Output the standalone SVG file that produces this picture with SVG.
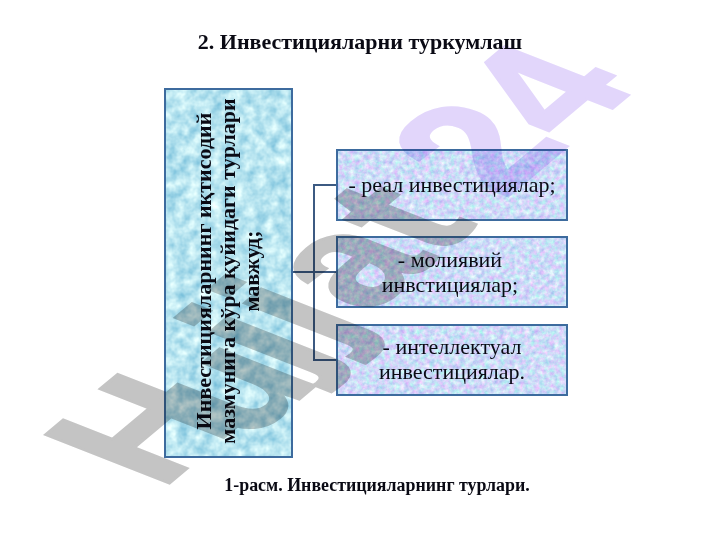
<svg xmlns="http://www.w3.org/2000/svg" width="720" height="540" viewBox="0 0 720 540">
<style>
.t{font-family:"Liberation Serif","Noto Sans",serif;fill:#0a0a14;text-anchor:middle}
.b{font-weight:bold}
.box{stroke:#3d6b9e;stroke-width:2}
.side{font-size:22px}
.lbl{font-size:22px}
.wm{font-family:"Liberation Sans",sans-serif;font-weight:bold;font-size:160px;mix-blend-mode:multiply;stroke-width:3}
.g1{fill:#c4c4c4;stroke:#c4c4c4}
.g2{fill:#e2d6fb;stroke:#e2d6fb}
.c{fill:none;stroke:#3c5a82;stroke-width:2}
</style>
<defs>
<filter id="drops" x="0" y="0" width="100%" height="100%" color-interpolation-filters="sRGB">
<feTurbulence type="fractalNoise" baseFrequency="0.09" numOctaves="3" seed="4"/>
<feColorMatrix type="matrix" values="0.6 0 0 0 0.42  0.35 0 0 0 0.72  0.2 0 0 0 0.84  0 0 0 0 1"/>
<feComposite in2="SourceGraphic" operator="in"/>
</filter>
<filter id="mottle" x="0" y="0" width="100%" height="100%" color-interpolation-filters="sRGB">
<feTurbulence type="fractalNoise" baseFrequency="0.2" numOctaves="3" seed="9"/>
<feColorMatrix type="matrix" values="0.45 0 0 0 0.58  0 0.4 0 0 0.66  0.1 0 0 0 0.92  0 0 0 0 1"/>
<feComposite in2="SourceGraphic" operator="in"/>
</filter>
</defs>
<rect width="720" height="540" fill="#fff"/>
<text id="title" class="t b" x="360" y="49" font-size="22">2. Инвестицияларни туркумлаш</text>
<g id="connectors">
<path class="c" d="M292 272H337M337 185H314V360H337"/>
</g>
<g id="main">
<rect x="165" y="89" width="127" height="368" fill="#fff" filter="url(#drops)"/>
<rect class="box" x="165" y="89" width="127" height="368" fill="none"/>
<text class="t b side" transform="translate(211 271) rotate(-90)">Инвестицияларнинг иқтисодий</text>
<text class="t b side" transform="translate(235 271) rotate(-90)">мазмунига кўра қуйидаги турлари</text>
<text class="t b side" transform="translate(259 271) rotate(-90)">мавжуд;</text>
</g>
<g id="real">
<rect x="337" y="150" width="230" height="70" fill="#fff" filter="url(#mottle)"/>
<rect class="box" x="337" y="150" width="230" height="70" fill="none"/>
<text class="t lbl" x="452" y="192">- реал инвестициялар;</text>
</g>
<g id="moliyaviy">
<rect x="337" y="237" width="230" height="70" fill="#fff" filter="url(#mottle)"/>
<rect class="box" x="337" y="237" width="230" height="70" fill="none"/>
<text class="t lbl" x="450" y="267">- молиявий</text>
<text class="t lbl" x="450" y="292">инвстициялар;</text>
</g>
<g id="intellektual">
<rect x="337" y="325" width="230" height="70" fill="#fff" filter="url(#mottle)"/>
<rect class="box" x="337" y="325" width="230" height="70" fill="none"/>
<text class="t lbl" x="452" y="354">- интеллектуал</text>
<text class="t lbl" x="452" y="379">инвестициялар.</text>
</g>
<text id="caption" class="t b" x="377" y="491" font-size="17.9">1-расм. Инвестицияларнинг турлари.</text>
<text id="watermark" class="wm" transform="matrix(0.766 -0.643 1.12 0.44 161 490)"><tspan class="g1">H</tspan><tspan class="g1" dx="-28" dy="18">u</tspan><tspan class="g1" dx="-8" dy="-18">jj</tspan><tspan class="g1" dx="6">at</tspan><tspan class="g2" dx="36" dy="-2">24</tspan></text>
</svg>
